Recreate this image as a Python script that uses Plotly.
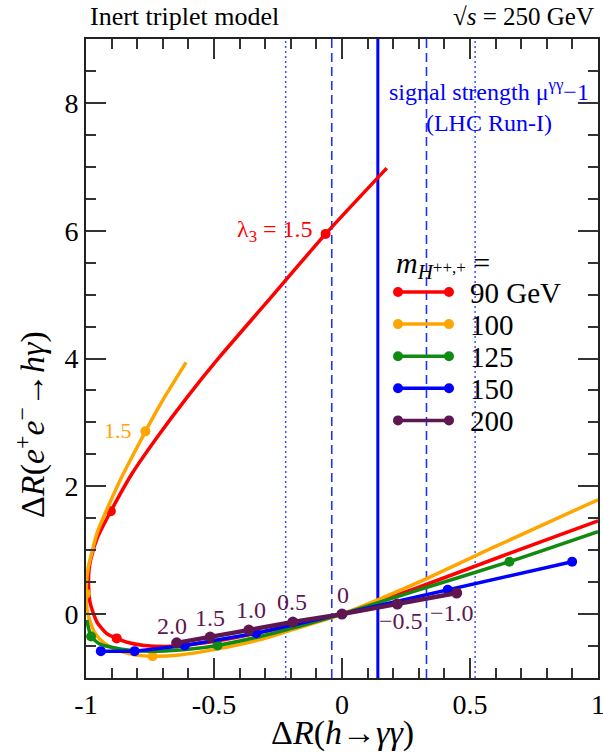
import plotly.graph_objects as go

# ---------------- data ----------------
# curves: Delta R(h->gamma gamma) vs Delta R(e+e- -> h gamma), parametrised by lambda_3
red_x = [1.0, 0.6, 0.3, 0.0, -0.15, -0.3, -0.5, -0.669, -0.773, -0.84, -0.88, -0.92, -0.955, -0.97,
         -0.985, -0.99, -0.988, -0.98, -0.955, -0.903, -0.82, -0.72, -0.6, -0.479, -0.296, -0.064, 0.175]
red_y = [1.46, 0.87, 0.42, 0.0, -0.13, -0.27, -0.43, -0.505, -0.49, -0.44, -0.38, -0.3, -0.14, 0.0,
         0.2, 0.45, 0.7, 0.88, 1.2, 1.61, 2.2, 2.78, 3.42, 4.02, 4.87, 5.95, 6.98]
red_mx = [-0.88, -0.903, -0.064]
red_my = [-0.38, 1.61, 5.95]

orange_x = [1.0, 0.6, 0.3, 0.0, -0.19, -0.32, -0.505, -0.635, -0.74, -0.82, -0.88, -0.93, -0.965,
            -0.985, -0.997, -1.0, -0.997, -0.99, -0.975, -0.955, -0.916, -0.86, -0.786, -0.768, -0.7, -0.609]
orange_y = [1.79, 1.06, 0.5, 0.0, -0.24, -0.40, -0.56, -0.64, -0.66, -0.63, -0.56, -0.45, -0.3,
            -0.1, 0.1, 0.32, 0.55, 0.75, 1.0, 1.29, 1.66, 2.15, 2.72, 2.86, 3.35, 3.94]
orange_mx = [-0.74, -1.0, -0.768]
orange_my = [-0.66, 0.32, 2.86]

green_x = [1.0, 0.654, 0.3, 0.0, -0.15, -0.3, -0.486, -0.6, -0.72, -0.82, -0.9, -0.95, -0.98, -0.997]
green_y = [1.29, 0.82, 0.38, 0.0, -0.17, -0.33, -0.49, -0.55, -0.58, -0.57, -0.52, -0.46, -0.35, -0.09]
green_mx = [0.654, -0.486, -0.98]
green_my = [0.82, -0.49, -0.35]

blue_x = [0.899, 0.413, 0.0, -0.335, -0.614, -0.81, -0.942]
blue_y = [0.82, 0.38, 0.0, -0.30, -0.49, -0.58, -0.58]

purple_x = [0.448, 0.216, 0.0, -0.192, -0.364, -0.515, -0.646]
purple_y = [0.33, 0.157, 0.0, -0.125, -0.25, -0.36, -0.45]
purple_labels = ["\u22121.0", "\u22120.5", "0", "0.5", "1.0", "1.5", "2.0"]
purple_label_x = [0.428, 0.232, 0.002, -0.194, -0.354, -0.514, -0.666]
purple_label_y = [0.02, -0.11, 0.30, 0.19, 0.06, -0.06, -0.19]

legend_labels = ["90 GeV", "100", "125", "150", "200"]
colors = ["#ff0000", "#ffa500", "#108a10", "#0000ff", "#5e1750"]

# LHC Run-I signal strength mu^{gamma gamma}-1
mu_central = 0.14
mu_1sigma = [-0.04, 0.33]
mu_2sigma = [-0.22, 0.52]

x_tickvals = [-1, -0.5, 0, 0.5, 1]
x_ticktext = ["-1", "-0.5", "0", "0.5", "1"]
y_tickvals = [0, 2, 4, 6, 8]
y_ticktext = ["0", "2", "4", "6", "8"]

FONT = "Liberation Serif"

# ---------------- figure ----------------
fig = go.Figure()
LW = 3.5
MS = 10

def curve(x, y, c, w=LW):
    fig.add_trace(go.Scatter(x=x, y=y, mode="lines", line=dict(color=c, width=w, shape="spline", smoothing=0.6),
                             hoverinfo="skip", showlegend=False))

def marks(x, y, c):
    fig.add_trace(go.Scatter(x=x, y=y, mode="markers", marker=dict(color=c, size=MS),
                             hoverinfo="skip", showlegend=False))

curve(red_x, red_y, colors[0]); marks(red_mx, red_my, colors[0])
curve(orange_x, orange_y, colors[1]); marks(orange_mx, orange_my, colors[1])
curve(green_x, green_y, colors[2]); marks(green_mx, green_my, colors[2])
fig.add_trace(go.Scatter(x=blue_x, y=blue_y, mode="lines+markers",
                         line=dict(color=colors[3], width=LW), marker=dict(color=colors[3], size=MS),
                         hoverinfo="skip", showlegend=False))
fig.add_trace(go.Scatter(x=purple_x, y=purple_y, mode="lines+markers",
                         line=dict(color=colors[4], width=4.5), marker=dict(color=colors[4], size=MS + 1),
                         hoverinfo="skip", showlegend=False))

# vertical reference lines
shapes = []
shapes.append(dict(type="line", xref="x", yref="paper", x0=mu_central, x1=mu_central, y0=0, y1=1,
                   line=dict(color="#0000ff", width=3), layer="below"))
for v in mu_1sigma:
    shapes.append(dict(type="line", xref="x", yref="paper", x0=v, x1=v, y0=0, y1=1,
                       line=dict(color="#2030ff", width=1.6, dash="9px,5px"), layer="below"))
for v in mu_2sigma:
    shapes.append(dict(type="line", xref="x", yref="paper", x0=v, x1=v, y0=0, y1=1,
                       line=dict(color="#4050ff", width=1.5, dash="2px,3px"), layer="below"))

# ---- plot-area pixel helpers for legend layout ----
W, H = 603, 752
ML, MR, MT, MB = 86, 5, 39, 74
PW, PH = W - ML - MR, H - MT - MB
def px(xp): return (xp - ML) / PW
def py(yp): return (H - MB - yp) / PH

annotations = []
# legend (custom, two markers per line like the original)
leg_y0, leg_dy = 292, 32.1
lx0, lx1, r = 398, 449, 5
for i, (lab, c) in enumerate(zip(legend_labels, colors)):
    yy = leg_y0 + i * leg_dy
    shapes.append(dict(type="line", xref="paper", yref="paper", x0=px(lx0), x1=px(lx1), y0=py(yy), y1=py(yy),
                       line=dict(color=c, width=3.5)))
    for cx in (lx0, lx1):
        shapes.append(dict(type="circle", xref="paper", yref="paper", x0=px(cx - r), x1=px(cx + r),
                           y0=py(yy + r), y1=py(yy - r), fillcolor=c, line=dict(color=c, width=0)))
    annotations.append(dict(text=lab, xref="paper", yref="paper", x=px(468), y=py(yy + 1), xanchor="left",
                            yanchor="middle", showarrow=False, font=dict(family=FONT, size=29, color="black")))
annotations.append(dict(text="<i>m</i><sub><i>H</i></sub><span style='font-size:17px'>++,+</span> =",
                        xref="paper", yref="paper", x=px(394), y=py(265), xanchor="left", yanchor="middle",
                        showarrow=False, font=dict(family=FONT, size=30, color="black")))

# curve labels
for t, x, y in zip(purple_labels, purple_label_x, purple_label_y):
    annotations.append(dict(text=t, x=x, y=y, xref="x", yref="y", showarrow=False,
                            xanchor="center", yanchor="middle",
                            font=dict(family=FONT, size=24, color=colors[4])))
annotations.append(dict(text="\u03bb<sub>3</sub> = 1.5", x=-0.107, y=5.99, xref="x", yref="y", xanchor="right",
                        yanchor="middle", showarrow=False, font=dict(family=FONT, size=24, color=colors[0])))
annotations.append(dict(text="1.5", x=-0.814, y=2.88, xref="x", yref="y", xanchor="right", yanchor="middle",
                        showarrow=False, font=dict(family=FONT, size=22, color=colors[1])))

# signal strength text
annotations.append(dict(text="signal strength \u03bc<sup>\u03b3\u03b3</sup>\u22121<br>(LHC Run-I)",
                        x=0.576, y=py(106), xref="x", yref="paper", showarrow=False, align="center",
                        xanchor="center", yanchor="middle",
                        font=dict(family=FONT, size=24, color="#0000ff")))

# headers
annotations.append(dict(text="Inert triplet model", x=px(88), y=py(17), xref="paper", yref="paper",
                        xanchor="left", yanchor="middle", showarrow=False,
                        font=dict(family=FONT, size=26, color="black")))
annotations.append(dict(text="\u221a<i>s</i> = 250 GeV", x=px(596), y=py(17), xref="paper", yref="paper",
                        xanchor="right", yanchor="middle", showarrow=False,
                        font=dict(family=FONT, size=25, color="black")))

# axis titles
annotations.append(dict(text="\u0394<i>R</i>(<i>h</i>\u2192<i>\u03b3\u03b3</i>)", x=0.5, y=py(733),
                        xref="paper", yref="paper", showarrow=False, xanchor="center", yanchor="middle",
                        font=dict(family=FONT, size=34, color="black")))
annotations.append(dict(text="\u0394<i>R</i>(<i>e</i><sup>+</sup><i>e</i><sup>\u2212</sup>\u2192<i>h\u03b3</i>)",
                        x=px(30), y=py(425), xref="paper", yref="paper", showarrow=False, textangle=-90,
                        xanchor="center", yanchor="middle",
                        font=dict(family=FONT, size=34, color="black")))

axis_common = dict(showline=True, linecolor="#222", linewidth=2, mirror="ticks", ticks="inside",
                   ticklen=20, tickwidth=1.5, tickcolor="#333", showgrid=False, zeroline=False,
                   automargin=False, ticklabeloverflow="allow",
                   tickfont=dict(family=FONT, size=28, color="black"))

fig.update_layout(
    width=W, height=H, margin=dict(l=ML, r=MR, t=MT, b=MB, autoexpand=False),
    paper_bgcolor="white", plot_bgcolor="white", showlegend=False,
    xaxis=dict(range=[-1, 1], tickmode="array", tickvals=x_tickvals, ticktext=x_ticktext,
               minor=dict(tickmode="linear", tick0=0, dtick=0.1, ticklen=10, tickwidth=1.5,
                          tickcolor="#333", ticks="inside"), **axis_common),
    yaxis=dict(range=[-1, 9], tickmode="array", tickvals=y_tickvals, ticktext=y_ticktext,
               minor=dict(tickmode="linear", tick0=0, dtick=0.5, ticklen=10, tickwidth=1.5,
                          tickcolor="#333", ticks="inside"), **axis_common),
    shapes=shapes, annotations=annotations,
)

fig.write_html("out.html", config={"displayModeBar": False},
               post_script="document.body.style.margin='0px';document.body.style.overflow='hidden';")
